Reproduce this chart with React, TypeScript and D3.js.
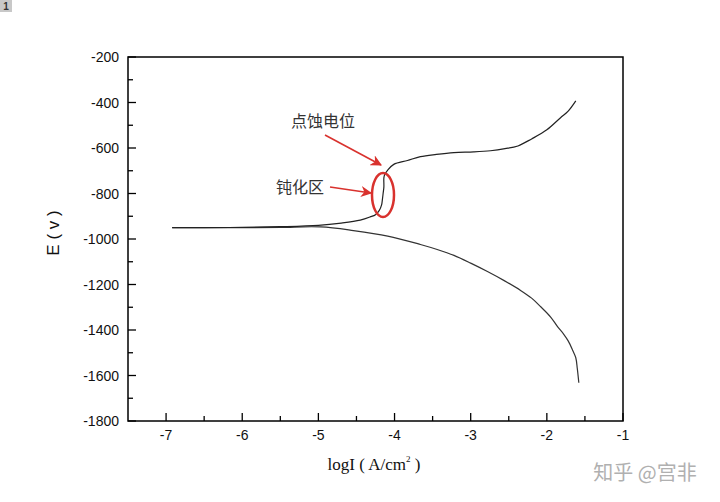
import React from "react";
import * as d3 from "d3";

// Anodic branch (logI, E in mV)
const anodicLogI = [-6.92, -6.5, -6.0, -5.5, -5.0, -4.7, -4.45, -4.32, -4.25, -4.2, -4.17, -4.16, -4.15, -4.14, -4.14, -4.13, -4.09, -4.01, -3.83, -3.66, -3.45, -3.22, -2.96, -2.74, -2.55, -2.38, -2.2, -2.0, -1.82, -1.72, -1.62];
const anodicE = [-950, -950, -949, -946, -940, -930, -917, -903, -893, -874, -850, -828, -800, -771, -731, -718, -697, -672, -655, -638, -628, -620, -617, -612, -603, -591, -560, -520, -467, -438, -393];

// Cathodic branch
const cathodicLogI = [-6.92, -6.5, -6.0, -5.5, -4.97, -4.54, -4.09, -3.66, -3.44, -3.22, -3.0, -2.78, -2.56, -2.34, -2.2, -2.08, -1.95, -1.86, -1.78, -1.72, -1.66, -1.62, -1.6, -1.58];
const cathodicE = [-950, -950, -950, -949, -947, -963, -987, -1024, -1046, -1072, -1106, -1143, -1183, -1227, -1260, -1298, -1343, -1385, -1418, -1448, -1490, -1522, -1570, -1632];

const xTicks = [-7, -6, -5, -4, -3, -2, -1];
const xMinor = [-6.5, -5.5, -4.5, -3.5, -2.5, -1.5];
const yTicks = [-200, -400, -600, -800, -1000, -1200, -1400, -1600, -1800];
const yMinor = [-300, -500, -700, -900, -1100, -1300, -1500, -1700];

const W = 720, H = 502;
const L = 128, R = 623, T = 57, B = 421;

export default function App() {
  const x = d3.scaleLinear().domain([-7.5, -1]).range([L, R]);
  const y = d3.scaleLinear().domain([-1800, -200]).range([B, T]);
  const line = d3.line<[number, number]>().x(d => x(d[0])).y(d => y(d[1])).curve(d3.curveCatmullRom.alpha(0.5));
  const an: [number, number][] = anodicLogI.map((v, i) => [v, anodicE[i]]);
  const ca: [number, number][] = cathodicLogI.map((v, i) => [v, cathodicE[i]]);
  const sans = "Liberation Sans, Arial, sans-serif";
  const cjk = "Noto Sans CJK SC, sans-serif";
  const red = "#d9322e";

  return (
    <svg width={W} height={H} style={{ position: "absolute", left: 0, top: 0, background: "#fff" }}>
      <defs>
        <marker id="ah" viewBox="0 0 10 10" refX="9" refY="5" markerWidth="7" markerHeight="7" orient="auto-start-reverse">
          <path d="M0,0 L10,5 L0,10 L3,5 z" fill={red} />
        </marker>
      </defs>
      <rect x={0} y={0} width={12} height={12} fill="#c8c8c8" />
      <text x={6} y={10} fontSize={10} fontWeight="bold" textAnchor="middle" fontFamily={sans} fill="#333">1</text>

      {/* frame */}
      <rect x={L} y={T} width={R - L} height={B - T} fill="none" stroke="#000" strokeWidth={1.5} />

      {xTicks.map(t => (
        <g key={"x" + t}>
          <line x1={x(t)} x2={x(t)} y1={B} y2={B - 8} stroke="#000" strokeWidth={1.3} />
          <text x={x(t)} y={440} fontSize={14} fontFamily={sans} textAnchor="middle" fill="#111">{t}</text>
        </g>
      ))}
      {xMinor.map(t => (
        <line key={"xm" + t} x1={x(t)} x2={x(t)} y1={B} y2={B - 5} stroke="#000" strokeWidth={1.3} />
      ))}
      {yTicks.map(t => (
        <g key={"y" + t}>
          <line x1={L} x2={L + 8} y1={y(t)} y2={y(t)} stroke="#000" strokeWidth={1.3} />
          <text x={119} y={y(t) + 5} fontSize={14} fontFamily={sans} textAnchor="end" fill="#111">{t}</text>
        </g>
      ))}
      {yMinor.map(t => (
        <line key={"ym" + t} x1={L} x2={L + 5} y1={y(t)} y2={y(t)} stroke="#000" strokeWidth={1.3} />
      ))}

      <text transform="translate(59,233) rotate(-90)" fontSize={17} fontFamily={sans} textAnchor="middle" fill="#111">E ( v )</text>
      <text x={374} y={470} fontSize={17} fontFamily="Liberation Serif, Times New Roman, serif" textAnchor="middle" fill="#111">
        logI ( A/cm<tspan fontSize={9} dy={-8}>2</tspan><tspan dy={8}> )</tspan>
      </text>

      <path d={line(ca) || ""} fill="none" stroke="#333" strokeWidth={1.2} />
      <path d={line(an) || ""} fill="none" stroke="#222" strokeWidth={1.2} />

      {/* annotations */}
      <ellipse cx={383} cy={195} rx={11} ry={22} fill="none" stroke={red} strokeWidth={2.5} />
      <line x1={325} y1={135} x2={381} y2={165} stroke={red} strokeWidth={1.6} markerEnd="url(#ah)" />
      <line x1={330} y1={187} x2={371} y2={193} stroke={red} strokeWidth={1.6} markerEnd="url(#ah)" />
      <text x={323} y={127} fontSize={16} fontFamily={cjk} textAnchor="middle" fill="#333">点蚀电位</text>
      <text x={300} y={193} fontSize={16} fontFamily={cjk} textAnchor="middle" fill="#333">钝化区</text>

      <text x={645} y={480} fontSize={20} fontFamily={cjk} textAnchor="middle" fill="#b0b0b0">知乎 @宫非</text>
    </svg>
  );
}
